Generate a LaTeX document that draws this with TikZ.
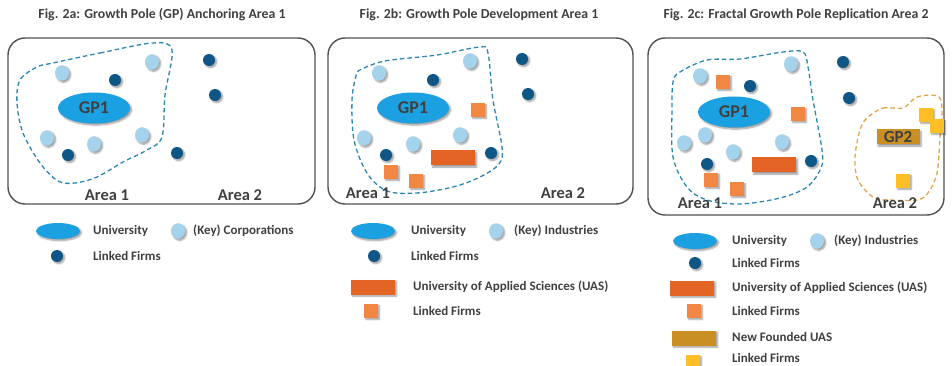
\documentclass[tikz,border=0pt]{standalone}
\usepackage{fontspec}
\setmainfont{Carlito}
\usetikzlibrary{shapes.geometric,shadows.blur}

\definecolor{txt}{HTML}{404040}
\definecolor{frame}{HTML}{505050}
\definecolor{univblue}{HTML}{1BA1E2}
\definecolor{corpblue}{HTML}{A5D3EC}
\definecolor{firmblue}{HTML}{0D5685}
\definecolor{blobblue}{HTML}{2C86B2}
\definecolor{uasorange}{HTML}{E46426}
\definecolor{firmorange}{HTML}{F28743}
\definecolor{gpgold}{HTML}{C98F23}
\definecolor{firmyellow}{HTML}{FDBE26}
\definecolor{blobgold}{HTML}{E0A64E}

\tikzset{
  sh/.style={blur shadow={shadow xshift=1.6pt,shadow yshift=-1.6pt,shadow blur steps=6,shadow opacity=40,shadow blur radius=1.6pt}},
  panel/.style={draw=frame,line width=1.4pt,rounded corners=17pt},
  title/.style={text=txt,font=\fontsize{13.8}{16}\selectfont\bfseries},
  arealabel/.style={text=txt,font=\fontsize{16.5}{19}\selectfont\bfseries},
  legtext/.style={text=txt,anchor=west,inner sep=0pt,font=\fontsize{13}{15}\selectfont\bfseries},
  univ/.style={ellipse,fill=univblue,minimum width=72pt,minimum height=31pt,inner sep=0pt,sh,text=txt,font=\fontsize{18}{18}\selectfont\bfseries},
  univleg/.style={ellipse,fill=univblue,minimum width=44pt,minimum height=16pt,inner sep=0pt,sh},
  corp/.style={ellipse,fill=corpblue,minimum width=14pt,minimum height=15.5pt,inner sep=0pt,sh},
  firm/.style={circle,fill=firmblue,minimum size=12pt,inner sep=0pt,sh},
  uas/.style={rectangle,fill=uasorange,minimum width=44pt,minimum height=15pt,inner sep=0pt,sh},
  lfirm/.style={rectangle,fill=firmorange,minimum size=13.5pt,inner sep=0pt,sh},
  newuas/.style={rectangle,fill=gpgold,minimum width=43pt,minimum height=15pt,inner sep=0pt,sh,text=txt,font=\fontsize{17}{17}\selectfont\bfseries},
  yfirm/.style={rectangle,fill=firmyellow,minimum size=13.5pt,inner sep=0pt,sh},
  blob/.style={draw=blobblue,line width=1.3pt,dash pattern=on 4.5pt off 3pt},
  goldblob/.style={draw=blobgold,line width=1.3pt,dash pattern=on 4.5pt off 3pt},
}

\begin{document}
\begin{tikzpicture}[x=1pt,y=-1pt]
\useasboundingbox (0,0) rectangle (952,366);

% ---------------- Fig. 2a ----------------
\node[title] (ta) at (162,15) {Fig. 2a: Growth Pole (GP) Anchoring Area 1};
\draw[panel] (8,38) rectangle (315,204);
\draw[blob] plot[smooth cycle,tension=0.55] coordinates {(53,63) (100,53) (153,43) (172,50) (165,95) (162,137) (147,150) (123,162) (97,177) (75,183) (58,181) (40,163) (23,133) (17,103) (20,80) (37,67)};
\node[univ] (agp) at (94,108) {GP1};
\foreach \x/\y [count=\i] in {62/73,152/62,47/138,94/144,142/135}
  \node[corp] (ac\i) at (\x,\y) {};
\foreach \x/\y [count=\i] in {115/80,68/155,209/60,215/95,177/153}
  \node[firm] (af\i) at (\x,\y) {};
\node[arealabel] (aa1) at (107,195) {Area 1};
\node[arealabel] (aa2) at (240,195) {Area 2};

% legend 2a
\node[univleg] (alu) at (58,231) {};
\node[legtext] (alut) at (93,231) {University};
\node[corp] (alc) at (178,231) {};
\node[legtext] (alct) at (193,231) {(Key) Corporations};
\node[firm] (alf) at (57,256) {};
\node[legtext] (alft) at (93,256) {Linked Firms};

% ---------------- Fig. 2b ----------------
\node[title] (tb) at (479,15) {Fig. 2b: Growth Pole Development Area 1};
\draw[panel] (328,38) rectangle (633,204);
\draw[blob] plot[smooth cycle,tension=0.55] coordinates {(360,70) (385,61) (437,55) (480,47) (488,53) (493,100) (502,147) (499,164) (480,177) (453,187) (417,193) (387,191) (367,173) (354,140) (352,100) (356,76)};
\node[univ] (bgp) at (413,108) {GP1};
\foreach \x/\y [count=\i] in {379/73,470/61,364/138,413/144,460/135}
  \node[corp] (bc\i) at (\x,\y) {};
\foreach \x/\y [count=\i] in {433/80,386/155,491/153,522/59,528/94}
  \node[firm] (bf\i) at (\x,\y) {};
\foreach \x/\y [count=\i] in {478/110,391/172,416/181}
  \node[lfirm] (bo\i) at (\x,\y) {};
\node[uas] (buas) at (453,158) {};
\node[arealabel] (ba1) at (368,193) {Area 1};
\node[arealabel] (ba2) at (563,193) {Area 2};

% legend 2b
\node[univleg] (blu) at (373,231) {};
\node[legtext] (blut) at (411,231) {University};
\node[corp] (blc) at (496,231) {};
\node[legtext] (blct) at (514,231) {(Key) Industries};
\node[firm] (blf) at (374,256) {};
\node[legtext] (blft) at (411,256) {Linked Firms};
\node[uas] (blua) at (373,287) {};
\node[legtext] (bluat) at (413,287) {University of Applied Sciences (UAS)};
\node[lfirm] (blo) at (371,311) {};
\node[legtext] (blot) at (413,311) {Linked Firms};

% ---------------- Fig. 2c ----------------
\node[title] (tc) at (796,15) {Fig. 2c: Fractal Growth Pole Replication Area 2};
\draw[panel] (648,38) rectangle (944,215);
\draw[blob] plot[smooth cycle,tension=0.55] coordinates {(680,72) (707,60) (740,59) (783,52) (803,52) (808,67) (813,100) (822,150) (821,168) (807,187) (780,198) (740,204) (707,200) (687,187) (673,157) (672,110) (673,82)};
\draw[goldblob] plot[smooth cycle,tension=0.55] coordinates {(867,118) (883,108) (903,108) (917,97) (937,96) (942,107) (940,137) (937,173) (928,193) (917,200) (890,200) (873,197) (858,180) (855,157) (860,130)};
\node[univ] (cgp) at (734,112) {GP1};
\foreach \x/\y [count=\i] in {700/76,791/64,684/143,705/135,733/152,782/142}
  \node[corp] (cc\i) at (\x,\y) {};
\foreach \x/\y [count=\i] in {750/86,707/164,811/161,843/62,849/98}
  \node[firm] (cf\i) at (\x,\y) {};
\foreach \x/\y [count=\i] in {723/82,798/114,711/180,737/189}
  \node[lfirm] (co\i) at (\x,\y) {};
\node[uas] (cuas) at (774,165) {};
\node[newuas] (cgp2) at (898,137) {GP2};
\foreach \x/\y [count=\i] in {926/115,937/126,903/181}
  \node[yfirm] (cy\i) at (\x,\y) {};
\node[arealabel] (ca1) at (700,203) {Area 1};
\node[arealabel] (ca2) at (895,203) {Area 2};

% legend 2c
\node[univleg] (clu) at (695,241) {};
\node[legtext] (clut) at (732,241) {University};
\node[corp] (clc) at (817,241) {};
\node[legtext] (clct) at (834,241) {(Key) Industries};
\node[firm] (clf) at (695,263) {};
\node[legtext] (clft) at (732,263) {Linked Firms};
\node[uas] (clua) at (692,288) {};
\node[legtext] (cluat) at (732,288) {University of Applied Sciences (UAS)};
\node[lfirm] (clo) at (694,311) {};
\node[legtext] (clot) at (732,311) {Linked Firms};
\node[newuas,minimum width=44pt] (clg) at (694,338) {};
\node[legtext] (clgt) at (732,337) {New Founded UAS};
\node[yfirm] (cly) at (693,362) {};
\node[legtext] (clyt) at (732,358) {Linked Firms};
\end{tikzpicture}
\end{document}
